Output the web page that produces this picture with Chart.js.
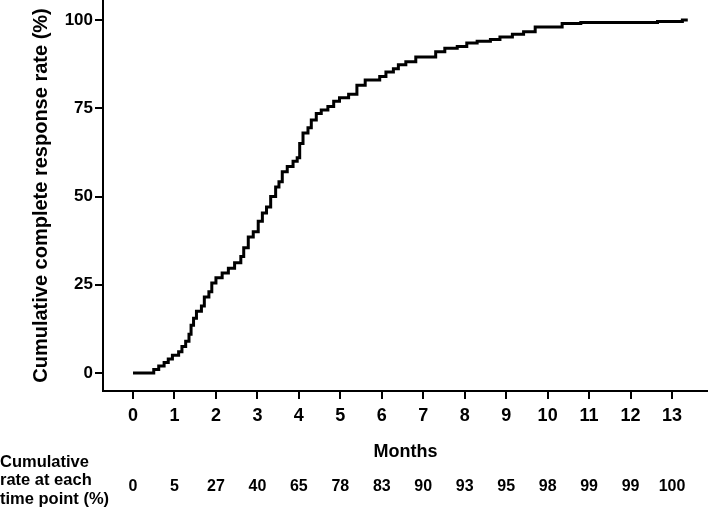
<!DOCTYPE html>
<html>
<head>
<meta charset="utf-8">
<script src="https://cdn.jsdelivr.net/npm/chart.js@4.4.1/dist/chart.umd.min.js"></script>
<style>
  html, body { margin: 0; padding: 0; background: #fff; }
  #wrap { width: 708px; height: 511px; position: relative; }
</style>
</head>
<body>
<div id="wrap"><canvas id="c" width="708" height="511"></canvas></div>
<script>
// Step (jump) times in months and cumulative complete response rate (%) after each jump
const months = [0, 0.50, 0.62, 0.75, 0.85, 0.95, 1.10, 1.18, 1.27, 1.35, 1.40, 1.46, 1.53, 1.65, 1.72, 1.83, 1.90,
  2.00, 2.15, 2.30, 2.45, 2.60, 2.67, 2.78, 2.90, 3.02, 3.12, 3.22, 3.32, 3.44, 3.52, 3.60, 3.72, 3.86, 3.96,
  4.02, 4.10, 4.22, 4.30, 4.42, 4.54, 4.70, 4.84, 4.98, 5.20, 5.40, 5.60, 5.95, 6.10, 6.28, 6.40, 6.58, 6.82,
  7.30, 7.52, 7.82, 8.05, 8.30, 8.62, 8.85, 9.15, 9.42, 9.70, 10.35, 10.80, 12.65, 13.25, 13.38];
const rates = [0, 1, 2, 3, 4, 5, 6, 7.5, 9, 11, 13.5, 15.5, 17.5, 19, 21.5, 23, 25.5,
  27, 28.3, 29.7, 31.2, 33, 35.5, 38.5, 40, 43, 45.3, 47, 50, 52.7, 54.2, 57, 58.5, 60, 61,
  65, 68, 69.5, 71.7, 73.5, 74.5, 75.5, 77, 78, 79, 81.5, 83, 84, 85.3, 86.2, 87.3, 88.2, 89.5,
  91, 92, 92.5, 93.5, 94, 94.5, 95.2, 96, 96.7, 98, 99, 99.3, 99.6, 100, 100];

// Axis ticks
const xTicks = [0, 1, 2, 3, 4, 5, 6, 7, 8, 9, 10, 11, 12, 13];
const yTicks = [0, 25, 50, 75, 100];

// Table under the axis: cumulative rate at each time point (%)
const tableMonths = [0, 1, 2, 3, 4, 5, 6, 7, 8, 9, 10, 11, 12, 13];
const tableRates = ["0", "5", "27", "40", "65", "78", "83", "90", "93", "95", "98", "99", "99", "100"];
const tableLabel = ["Cumulative", "rate at each", "time point (%)"];

const FONT = "'Liberation Sans', Arial, Helvetica, sans-serif";

const tablePlugin = {
  id: 'rateTable',
  afterDraw(chart) {
    const ctx = chart.ctx;
    const xs = chart.scales.x;
    ctx.save();
    ctx.fillStyle = '#000';
    ctx.textBaseline = 'middle';
    ctx.font = "bold 16.5px " + FONT;
    ctx.textAlign = 'left';
    const ly = [462, 480, 499];
    tableLabel.forEach((t, i) => ctx.fillText(t, 0, ly[i]));
    ctx.font = "bold 16px " + FONT;
    ctx.textAlign = 'center';
    tableMonths.forEach((m, i) => {
      ctx.fillText(tableRates[i], xs.getPixelForValue(m), 487);
    });
    ctx.restore();
  }
};

const points = months.map((m, i) => ({ x: m, y: rates[i] }));

new Chart(document.getElementById('c'), {
  type: 'line',
  data: {
    datasets: [{
      data: points,
      borderColor: '#000',
      borderWidth: 3,
      pointRadius: 0,
      stepped: 'before',
      fill: false,
      tension: 0
    }]
  },
  options: {
    responsive: false,
    animation: false,
    events: [],
    layout: { padding: 0, autoPadding: false },
    plugins: { legend: { display: false }, tooltip: { enabled: false } },
    scales: {
      x: {
        type: 'linear',
        min: -0.724,
        max: 13.868,
        afterBuildTicks: s => { s.ticks = xTicks.map(v => ({ value: v })); },
        afterFit: s => { s.height = 120; s.paddingLeft = 0; s.paddingRight = 0; s.paddingTop = 0; s.paddingBottom = 0; },
        grid: { display: true, drawOnChartArea: false, drawTicks: true, tickLength: 8, color: '#000', lineWidth: 2 },
        border: { display: true, color: '#000', width: 2 },
        ticks: {
          color: '#000', autoSkip: false, maxRotation: 0, padding: 6,
          font: { family: FONT, size: 18, weight: 'bold' },
          callback: v => String(v)
        },
        title: {
          display: true, text: 'Months', color: '#000',
          font: { family: FONT, size: 18, weight: 'bold' },
          padding: { top: 0, bottom: 48 }
        }
      },
      y: {
        type: 'linear',
        min: -5.1,
        max: 105.67,
        afterBuildTicks: s => { s.ticks = yTicks.map(v => ({ value: v })); },
        afterFit: s => { s.width = 103; s.paddingLeft = 0; s.paddingRight = 0; s.paddingTop = 0; s.paddingBottom = 0; },
        grid: { display: true, drawOnChartArea: false, drawTicks: true, tickLength: 8, color: '#000', lineWidth: 2 },
        border: { display: true, color: '#000', width: 2 },
        ticks: {
          color: '#000', padding: 2,
          font: { family: FONT, size: 17, weight: 'bold' },
          callback: v => String(v)
        },
        title: {
          display: true, text: 'Cumulative complete response rate (%)', color: '#000',
          font: { family: FONT, size: 20, weight: 'bold' },
          padding: { top: 29, bottom: 0 }
        }
      }
    }
  },
  plugins: [tablePlugin]
});
</script>
</body>
</html>
